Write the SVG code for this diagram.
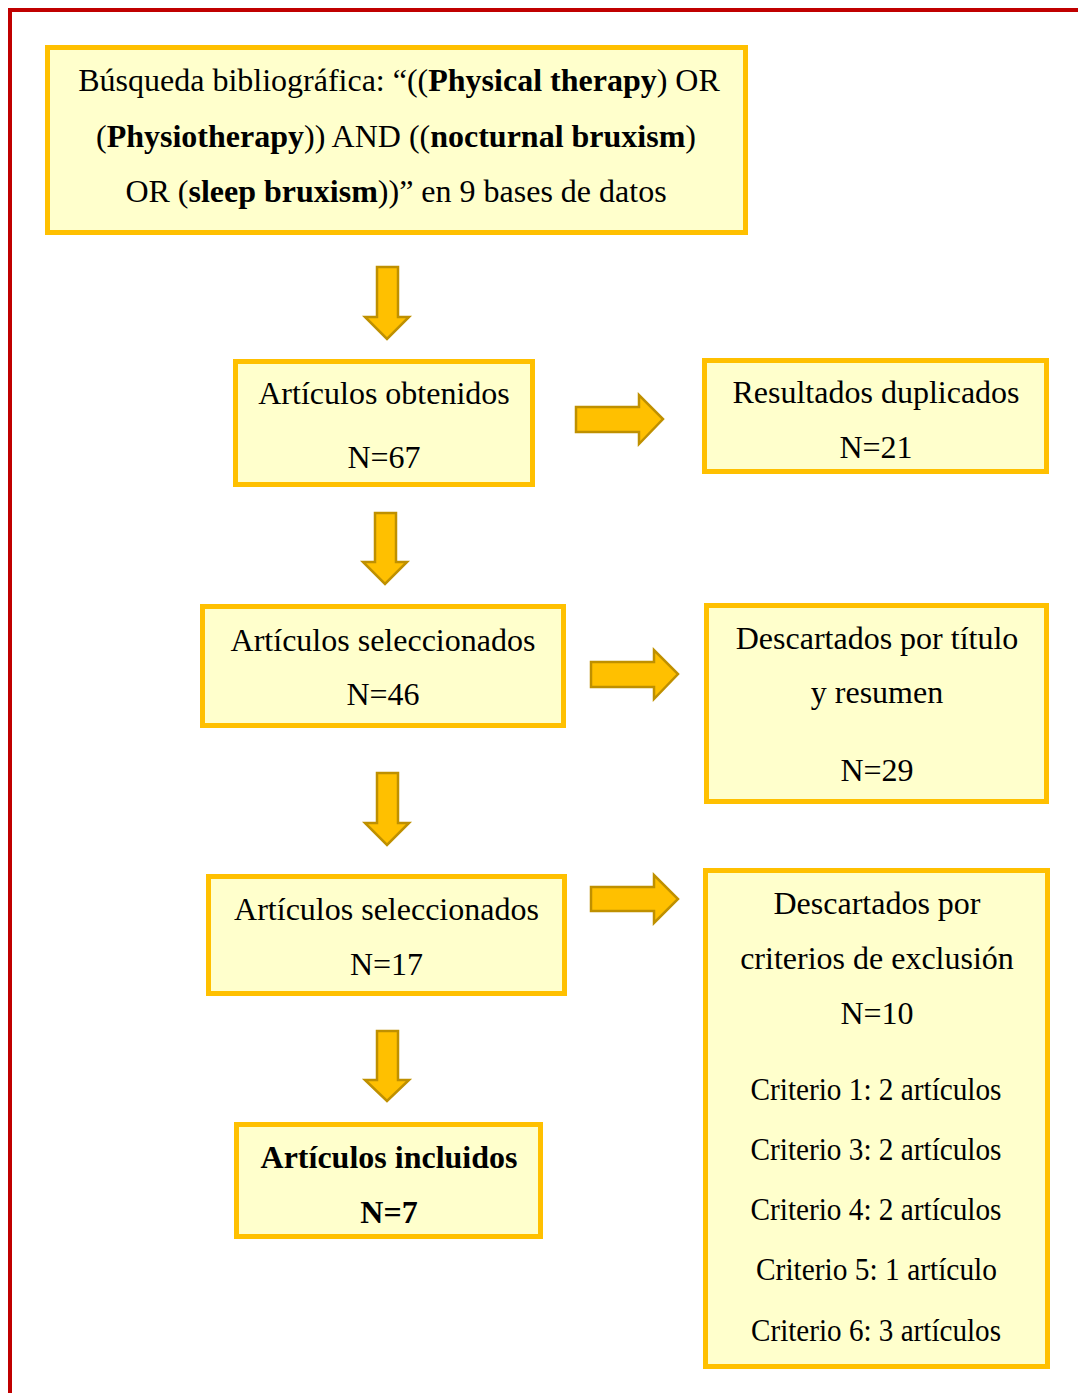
<svg xmlns="http://www.w3.org/2000/svg" width="1078" height="1393" viewBox="0 0 1078 1393">
<style>
.box{fill:#FFFFCC;stroke:#FFC000;stroke-width:5}
.t{font-family:"Liberation Serif","Times New Roman",serif;font-size:32px;fill:#000;text-anchor:middle}
.b{font-weight:bold}
.arr{fill:#FFC000;stroke:#BF9000;stroke-width:2.5;stroke-linejoin:miter}
</style>
<rect x="0" y="0" width="1078" height="1393" fill="#fff"/>
<path d="M10 1393 V10 H1078" fill="none" stroke="#C00000" stroke-width="4"/>
<g id="n_busqueda">
<rect class="box" x="47.5" y="47.5" width="698" height="185"/>
<text class="t" x="399" y="91">Búsqueda bibliográfica: “((<tspan class="b">Physical therapy</tspan>) OR</text>
<text class="t" x="396" y="147">(<tspan class="b">Physiotherapy</tspan>)) AND ((<tspan class="b">nocturnal bruxism</tspan>)</text>
<text class="t" x="396" y="202">OR (<tspan class="b">sleep bruxism</tspan>))” en 9 bases de datos</text>
</g>
<g id="n_obtenidos">
<rect class="box" x="235.5" y="361.5" width="297" height="123"/>
<text class="t" x="384" y="404">Artículos obtenidos</text>
<text class="t" x="384" y="468">N=67</text>
</g>
<g id="n_duplicados">
<rect class="box" x="704.5" y="360.5" width="342" height="111"/>
<text class="t" x="876" y="403">Resultados duplicados</text>
<text class="t" x="876" y="458">N=21</text>
</g>
<g id="n_sel46">
<rect class="box" x="202.5" y="606.5" width="361" height="119"/>
<text class="t" x="383" y="651">Artículos seleccionados</text>
<text class="t" x="383" y="705">N=46</text>
</g>
<g id="n_titulo">
<rect class="box" x="706.5" y="605.5" width="340" height="196"/>
<text class="t" x="877" y="649">Descartados por título</text>
<text class="t" x="877" y="703">y resumen</text>
<text class="t" x="877" y="781">N=29</text>
</g>
<g id="n_sel17">
<rect class="box" x="208.5" y="876.5" width="356" height="117"/>
<text class="t" x="386.5" y="920">Artículos seleccionados</text>
<text class="t" x="386.5" y="975">N=17</text>
</g>
<g id="n_criterios">
<rect class="box" x="705.5" y="870.5" width="342" height="496"/>
<text class="t" x="877" y="914">Descartados por</text>
<text class="t" x="877" y="969">criterios de exclusión</text>
<text class="t" x="877" y="1024">N=10</text>
<text class="t" x="876" y="1100" textLength="251" lengthAdjust="spacingAndGlyphs">Criterio 1: 2 artículos</text>
<text class="t" x="876" y="1160" textLength="251" lengthAdjust="spacingAndGlyphs">Criterio 3: 2 artículos</text>
<text class="t" x="876" y="1220" textLength="251" lengthAdjust="spacingAndGlyphs">Criterio 4: 2 artículos</text>
<text class="t" x="876.5" y="1280" textLength="241" lengthAdjust="spacingAndGlyphs">Criterio 5: 1 artículo</text>
<text class="t" x="876" y="1341" textLength="250" lengthAdjust="spacingAndGlyphs">Criterio 6: 3 artículos</text>
</g>
<g id="n_incluidos">
<rect class="box" x="236.5" y="1124.5" width="304" height="112"/>
<text class="t b" x="389" y="1168">Artículos incluidos</text>
<text class="t b" x="389" y="1223">N=7</text>
</g>
<g id="connectors">
<path class="arr" d="M377 267 H398 V317 H409 L387 339 L365 317 H377 Z"/>
<path class="arr" d="M375 513 H396 V562 H407 L385 584 L363 562 H375 Z"/>
<path class="arr" d="M377 773 H398 V823 H409 L387 845 L365 823 H377 Z"/>
<path class="arr" d="M377 1031 H398 V1080 H409 L387 1101 L365 1080 H377 Z"/>
<path class="arr" d="M576 407 H639 V395 L663 419 L639 444 V432 H576 Z"/>
<path class="arr" d="M591 662 H654 V650 L678 674 L654 699 V687 H591 Z"/>
<path class="arr" d="M591 887 H654 V875 L678 899 L654 923 V911 H591 Z"/>
</g>
</svg>
